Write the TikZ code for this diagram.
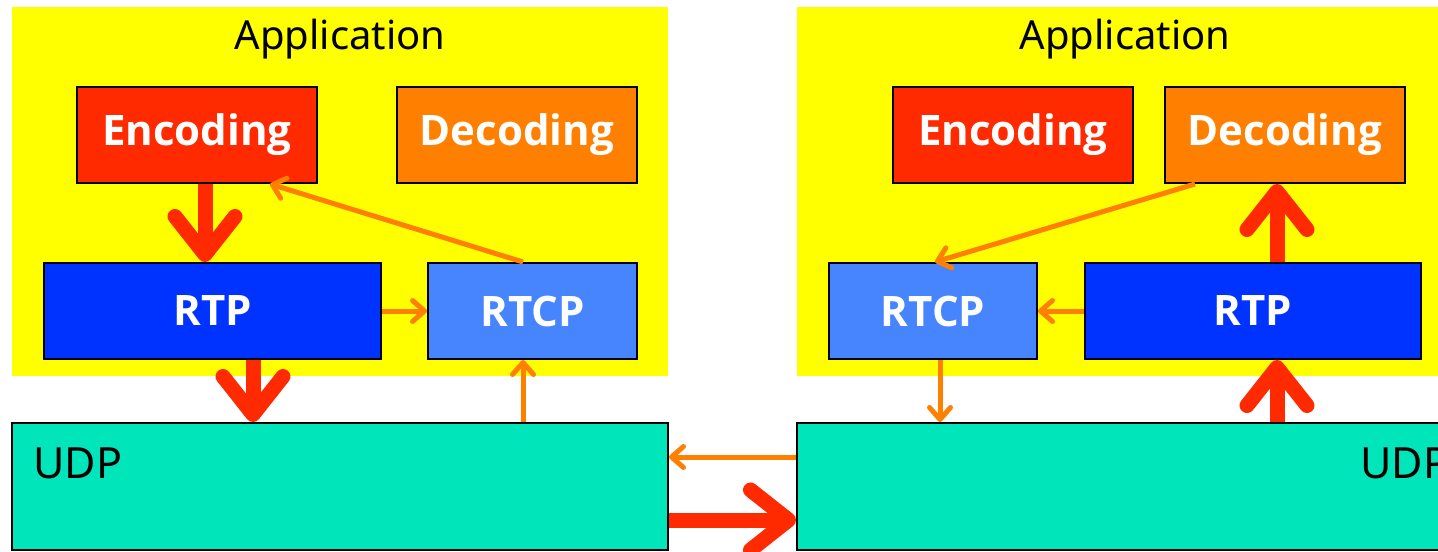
\documentclass[tikz,border=0pt]{standalone}
\usepackage{fontspec}
\setmainfont{Noto Sans}
\newfontfamily\labelfont{Open Sans}
\usetikzlibrary{arrows.meta}
\definecolor{appyellow}{HTML}{FFFF00}
\definecolor{encred}{HTML}{FF2A00}
\definecolor{decorange}{HTML}{FF7F00}
\definecolor{rtpblue}{HTML}{0033FF}
\definecolor{rtcpblue}{HTML}{4785FF}
\definecolor{udpteal}{HTML}{00E5BA}
\tikzset{
  appbox/.style={fill=appyellow, draw=none, inner sep=0, minimum width=328pt, minimum height=184.5pt},
  protobox/.style={draw=black, line width=1pt, inner sep=0, minimum height=48pt, text=white,
    font=\labelfont\bfseries\fontsize{21}{21}\selectfont},
  udpbox/.style={fill=udpteal, draw=black, line width=1pt, inner sep=0, minimum width=328pt, minimum height=63.5pt},
  apptext/.style={font=\fontsize{20}{20}\selectfont, inner sep=0, anchor=base},
  udptext/.style={font=\fontsize{21.5}{21.5}\selectfont, inner sep=0, anchor=base west},
  bigarrow/.style={draw=encred, line width=7.5pt, -{Straight Barb[length=19pt,width=30pt,round]}},
  thinarrow/.style={draw=decorange, line width=2.5pt, -{Straight Barb[length=6pt,width=10.5pt,round]}},
}
\begin{document}
\begin{tikzpicture}[x=0.5pt,y=-0.5pt]
\useasboundingbox (0,0) rectangle (1438,551);
\clip (0,0) rectangle (1438,551);
% application areas
\node[appbox] (appL) at (340,191.5) {};
\node[appbox] (appR) at (1125,191.5) {};
\node[apptext] (appLt) at (340,50) {Application};
\node[apptext] (appRt) at (1125,50) {Application};
% left stack
\node[protobox, fill=encred, minimum width=120pt] (encL) at (197,135) {Encoding};
\node[protobox, fill=decorange, minimum width=120pt] (decL) at (517,135) {Decoding};
\node[protobox, fill=rtpblue, minimum width=168.5pt] (rtpL) at (212.5,311) {RTP};
\node[protobox, fill=rtcpblue, minimum width=104.5pt] (rtcpL) at (532.5,311) {RTCP};
% right stack
\node[protobox, fill=encred, minimum width=120pt] (encR) at (1013,135) {Encoding};
\node[protobox, fill=decorange, minimum width=120pt] (decR) at (1285,135) {Decoding};
\node[protobox, fill=rtcpblue, minimum width=104pt] (rtcpR) at (933,311) {RTCP};
\node[protobox, fill=rtpblue, minimum width=168pt] (rtpR) at (1253,311) {RTP};
% UDP boxes
\node[udpbox] (udpL) at (340,486.5) {};
\node[udpbox] (udpR) at (1125,486.5) {};
\node[udptext] (udpLt) at (33,478) {UDP};
\node[udptext] (udpRt) at (1360,478) {UDP};
% helper coordinates
\coordinate (xa) at (205,0);
\coordinate (xb) at (253,0);
\coordinate (xc) at (523,0);
\coordinate (xd) at (270,0);
\coordinate (xe) at (1195,0);
\coordinate (xf) at (935,0);
\coordinate (xg) at (940,0);
\coordinate (xh) at (1277,0);
\coordinate (ya) at (0,457);
\coordinate (yb) at (0,520);
% left arrows
\draw[bigarrow] (encL.south -| xa) -- (rtpL.north -| xa);
\draw[bigarrow] (rtpL.south -| xb) -- (udpL.north -| xb);
\draw[thinarrow] (rtcpL.north -| xc) -- (encL.south -| xd);
\draw[thinarrow] (rtpL.east) -- (rtcpL.west);
\draw[thinarrow] (udpL.north -| xc) -- (rtcpL.south -| xc);
% between hosts
\draw[thinarrow] (udpR.west |- ya) -- (udpL.east |- ya);
\draw[bigarrow] (udpL.east |- yb) -- (udpR.west |- yb);
% right arrows
\draw[thinarrow] (decR.south -| xe) -- (rtcpR.north -| xf);
\draw[thinarrow] (rtpR.west) -- (rtcpR.east);
\draw[thinarrow] (rtcpR.south -| xg) -- (udpR.north -| xg);
\draw[bigarrow] (udpR.north -| xh) -- (rtpR.south -| xh);
\draw[bigarrow] (rtpR.north -| xh) -- (decR.south -| xh);
\end{tikzpicture}
\end{document}
